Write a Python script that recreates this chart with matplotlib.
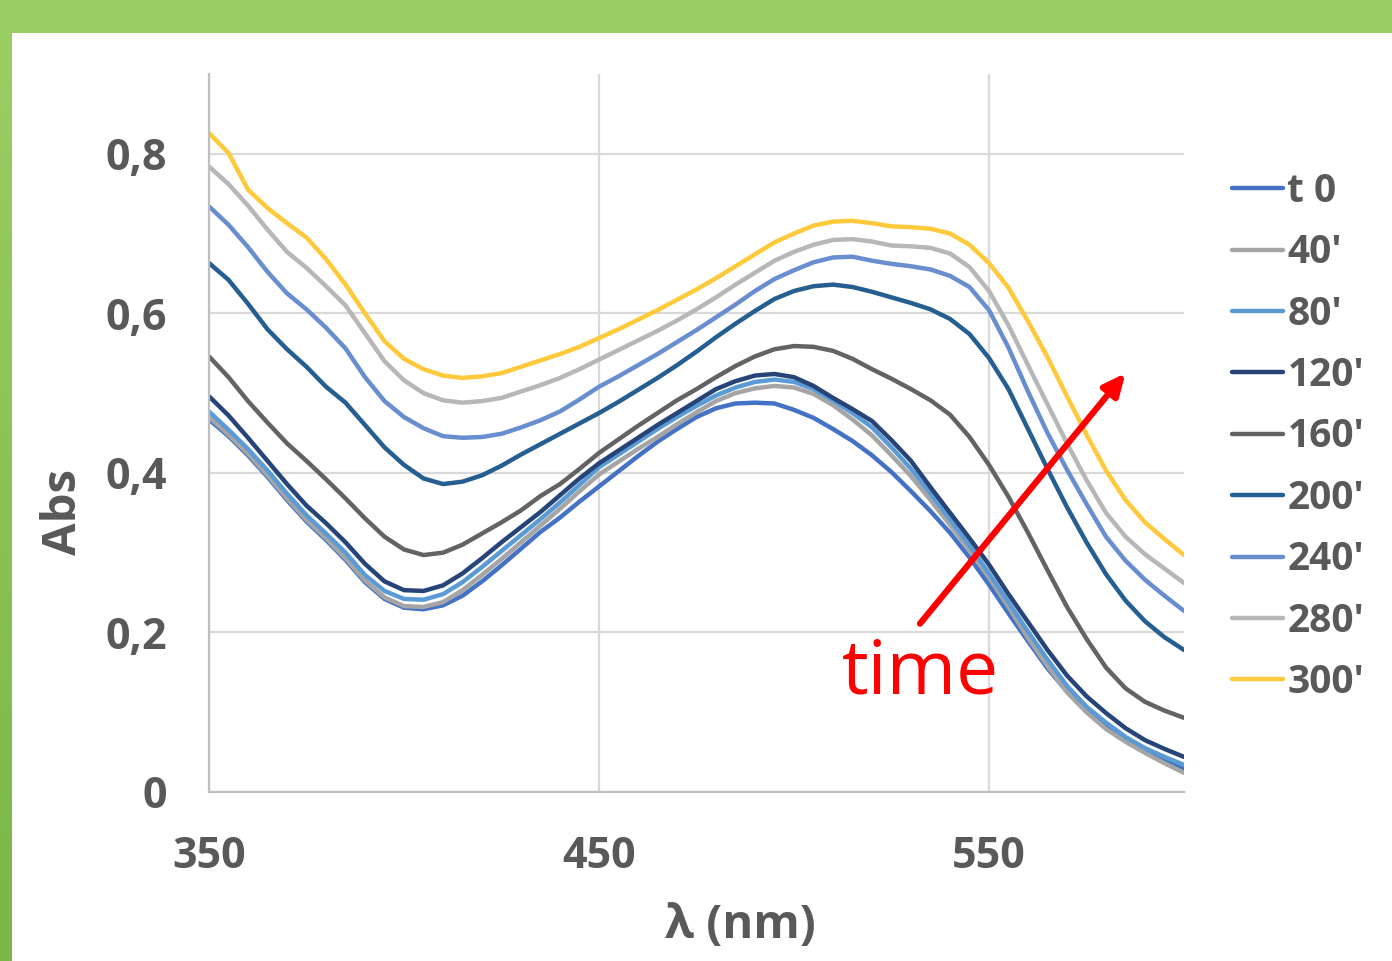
import numpy as np
import matplotlib.pyplot as plt
from matplotlib.patches import Rectangle
from matplotlib.colors import LinearSegmentedColormap

plt.rcParams['font.family'] = ['Open Sans', 'DejaVu Sans']

# comprimentos de onda (nm) e espectros de absorbancia
wavelength = list(range(350, 601, 5))

t0 = [0.467, 0.446, 0.422, 0.395, 0.366, 0.339, 0.316, 0.291, 0.263, 0.242,
      0.231, 0.229, 0.234, 0.246, 0.264, 0.284, 0.305, 0.326, 0.344, 0.364,
      0.383, 0.402, 0.421, 0.439, 0.455, 0.470, 0.481, 0.487, 0.488, 0.487,
      0.479, 0.469, 0.455, 0.440, 0.422, 0.401, 0.377, 0.352, 0.325, 0.294,
      0.260, 0.224, 0.189, 0.155, 0.126, 0.102, 0.083, 0.067, 0.054, 0.041,
      0.029]
m40 = [0.470, 0.448, 0.424, 0.397, 0.368, 0.341, 0.318, 0.293, 0.265, 0.244,
       0.233, 0.232, 0.238, 0.253, 0.272, 0.292, 0.313, 0.334, 0.355, 0.377,
       0.398, 0.414, 0.430, 0.445, 0.461, 0.476, 0.490, 0.500, 0.506, 0.509,
       0.507, 0.499, 0.485, 0.467, 0.447, 0.422, 0.396, 0.366, 0.335, 0.303,
       0.269, 0.232, 0.193, 0.158, 0.125, 0.100, 0.079, 0.063, 0.049, 0.036,
       0.024]
m80 = [0.477, 0.454, 0.430, 0.403, 0.374, 0.347, 0.324, 0.300, 0.272, 0.252,
       0.242, 0.241, 0.248, 0.263, 0.282, 0.302, 0.322, 0.342, 0.363, 0.385,
       0.407, 0.423, 0.439, 0.455, 0.470, 0.484, 0.497, 0.507, 0.514, 0.517,
       0.514, 0.505, 0.491, 0.475, 0.457, 0.432, 0.405, 0.374, 0.342, 0.309,
       0.274, 0.238, 0.201, 0.166, 0.133, 0.107, 0.087, 0.069, 0.055, 0.044,
       0.034]
m120 = [0.496, 0.472, 0.444, 0.415, 0.386, 0.359, 0.337, 0.313, 0.286, 0.264,
        0.253, 0.252, 0.259, 0.274, 0.293, 0.313, 0.332, 0.351, 0.372, 0.393,
        0.412, 0.428, 0.444, 0.460, 0.475, 0.490, 0.505, 0.515, 0.522, 0.524,
        0.520, 0.509, 0.494, 0.480, 0.465, 0.441, 0.415, 0.382, 0.350, 0.318,
        0.285, 0.248, 0.213, 0.178, 0.146, 0.120, 0.099, 0.080, 0.065, 0.054,
        0.044]
m160 = [0.546, 0.520, 0.490, 0.463, 0.437, 0.415, 0.392, 0.368, 0.343, 0.320,
        0.304, 0.297, 0.300, 0.310, 0.324, 0.338, 0.353, 0.371, 0.386, 0.405,
        0.425, 0.442, 0.459, 0.475, 0.491, 0.505, 0.520, 0.534, 0.546, 0.555,
        0.559, 0.558, 0.553, 0.543, 0.530, 0.518, 0.505, 0.491, 0.473, 0.445,
        0.410, 0.370, 0.325, 0.278, 0.232, 0.192, 0.156, 0.130, 0.113, 0.102,
        0.093]
m200 = [0.663, 0.642, 0.612, 0.580, 0.555, 0.533, 0.508, 0.488, 0.460, 0.432,
        0.410, 0.393, 0.386, 0.389, 0.397, 0.409, 0.423, 0.436, 0.449, 0.462,
        0.475, 0.489, 0.504, 0.519, 0.535, 0.552, 0.570, 0.587, 0.603, 0.618,
        0.628, 0.634, 0.636, 0.633, 0.627, 0.620, 0.613, 0.605, 0.593, 0.574,
        0.544, 0.505, 0.455, 0.405, 0.357, 0.313, 0.273, 0.240, 0.214, 0.194,
        0.178]
m240 = [0.734, 0.711, 0.683, 0.652, 0.625, 0.605, 0.582, 0.556, 0.520, 0.490,
        0.470, 0.456, 0.446, 0.444, 0.445, 0.449, 0.457, 0.466, 0.477, 0.492,
        0.508, 0.521, 0.535, 0.549, 0.564, 0.579, 0.595, 0.611, 0.628, 0.643,
        0.654, 0.664, 0.670, 0.671, 0.666, 0.662, 0.659, 0.655, 0.647, 0.633,
        0.604, 0.557, 0.502, 0.450, 0.404, 0.361, 0.320, 0.290, 0.266, 0.246,
        0.227]
m280 = [0.784, 0.762, 0.735, 0.705, 0.677, 0.657, 0.634, 0.610, 0.575, 0.540,
        0.516, 0.500, 0.491, 0.488, 0.490, 0.494, 0.502, 0.510, 0.519, 0.530,
        0.542, 0.554, 0.566, 0.578, 0.591, 0.605, 0.620, 0.636, 0.651, 0.666,
        0.677, 0.686, 0.692, 0.693, 0.690, 0.685, 0.684, 0.682, 0.675, 0.658,
        0.628, 0.585, 0.535, 0.486, 0.437, 0.391, 0.350, 0.320, 0.298, 0.280,
        0.262]
m300 = [0.826, 0.801, 0.755, 0.732, 0.713, 0.695, 0.668, 0.636, 0.600, 0.565,
        0.543, 0.530, 0.522, 0.519, 0.521, 0.525, 0.533, 0.541, 0.549, 0.558,
        0.569, 0.580, 0.592, 0.604, 0.617, 0.630, 0.644, 0.659, 0.674, 0.689,
        0.700, 0.710, 0.715, 0.716, 0.713, 0.709, 0.708, 0.706, 0.700, 0.686,
        0.663, 0.632, 0.590, 0.545, 0.496, 0.448, 0.403, 0.366, 0.338, 0.317,
        0.297]

series = [t0, m40, m80, m120, m160, m200, m240, m280, m300]
labels = ["t 0", "40'", "80'", "120'", "160'", "200'", "240'", "280'", "300'"]
colors = ['#4472c4', '#a5a5a5', '#5b9bd5', '#264478', '#636363',
          '#255e91', '#698ed0', '#b7b7b7', '#ffc93c']

text_color = '#595959'

fig = plt.figure(figsize=(13.92, 9.61), dpi=100)
fig.patch.set_facecolor('white')

# moldura verde (topo e lado esquerdo)
fig.patches.append(Rectangle((0, 1 - 33 / 961), 1, 33 / 961, transform=fig.transFigure,
                             facecolor='#9bcd65', edgecolor='none', zorder=0))
band = fig.add_axes([0, 0, 12 / 1392, 1 - 33 / 961])
grad = np.linspace(0, 1, 200).reshape(-1, 1)
green = LinearSegmentedColormap.from_list('g', ['#7ab648', '#9bcd65'])
band.imshow(grad, aspect='auto', cmap=green, origin='lower')
band.axis('off')

ax = fig.add_axes([209 / 1392, 1 - 792 / 961, (1184 - 209) / 1392, (792 - 74) / 961])

for y, lab, c in zip(series, labels, colors):
    ax.plot(wavelength, y, color=c, lw=3.2, label=lab, solid_capstyle='round')

ax.set_xlim(350, 600)
ax.set_ylim(0, 0.9)
ax.set_xticks([350, 450, 550])
ax.set_yticks([0, 0.2, 0.4, 0.6, 0.8])
ax.set_yticklabels(['0', '0,2', '0,4', '0,6', '0,8'])
ax.grid(True, color='#d9d9d9', lw=1.6)
ax.set_axisbelow(True)
for s in ['top', 'right']:
    ax.spines[s].set_visible(False)
for s in ['left', 'bottom']:
    ax.spines[s].set_color('#bfbfbf')
    ax.spines[s].set_linewidth(1.6)
ax.tick_params(length=0, labelsize=31, labelcolor=text_color)
ax.tick_params(axis='y', pad=30)
ax.tick_params(axis='x', pad=31)
for t in ax.get_xticklabels() + ax.get_yticklabels():
    t.set_fontweight('bold')

fig.text(63 / 1392, 1 - 512 / 961, 'Abs', rotation=90, ha='center', va='center',
         fontsize=34, fontweight='bold', color=text_color)
fig.text(740 / 1392, 1 - 925 / 961, 'λ (nm)', ha='center', va='center',
         fontsize=34, fontweight='bold', color=text_color)

# seta "time"
ax.annotate('', xy=(585, 0.525), xytext=(532.3, 0.211),
            arrowprops=dict(arrowstyle='-|>,head_length=1.3,head_width=0.6',
                            color='#ff0000', lw=4.5, shrinkA=0, shrinkB=0))
ax.text(512.3, 0.123, 'time', color='#ff0000', fontsize=54, ha='left', va='baseline')

leg = fig.legend(loc='upper left', bbox_to_anchor=(1232 / 1392, 1 - 172 / 961),
                 frameon=False, fontsize=28, handlelength=1.3, handletextpad=0.12,
                 labelspacing=0.575, borderaxespad=0, borderpad=0)
for t in leg.get_texts():
    t.set_color(text_color)
    t.set_fontweight('bold')

plt.savefig('out.png', dpi=100)
